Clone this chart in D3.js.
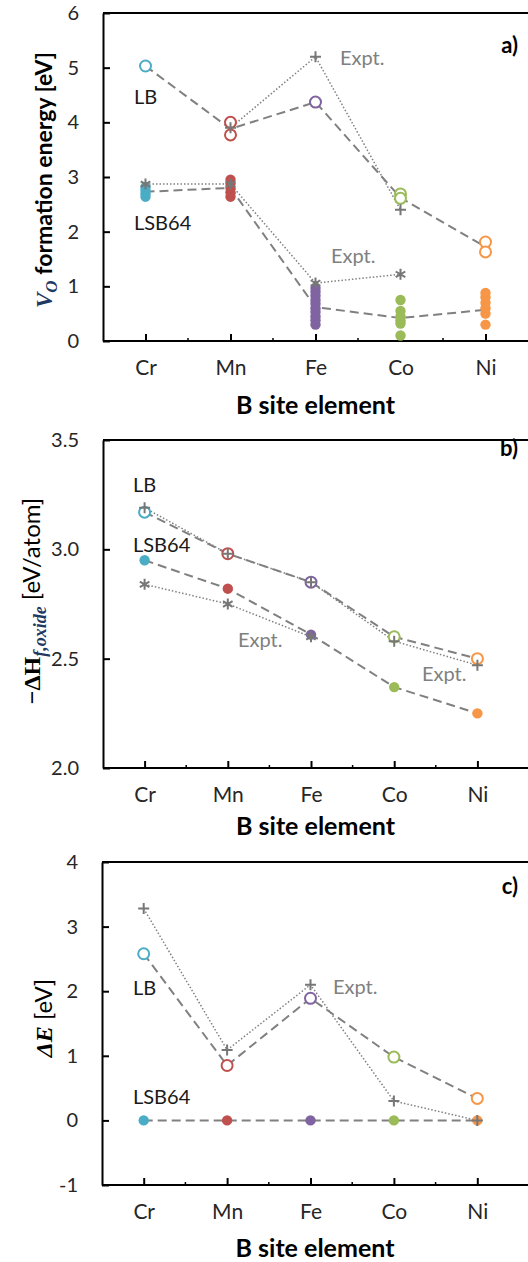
<!DOCTYPE html>
<html>
<head>
<meta charset="utf-8">
<script src="https://cdn.jsdelivr.net/npm/d3@7"></script>
<style>
body { margin: 0; background: #fff; }
svg { display: block; font-family: Lato, "Open Sans", sans-serif; }
</style>
</head>
<body>
<svg id="chart" width="528" height="1262"></svg>
<script>
// B site elements (x categories)
var elements = ["Cr", "Mn", "Fe", "Co", "Ni"];

// a) V_O formation energy [eV]
var vacLB = [[5.03], [4.0, 3.77], [4.37], [2.69, 2.61], [1.81, 1.63]];
var vacLBLine = [5.03, 3.88, 4.37, 2.62, 1.72];
var vacLSB = [
  [2.64, 2.7, 2.76, 2.82],
  [2.64, 2.72, 2.8, 2.88, 2.95],
  [0.3, 0.38, 0.45, 0.53, 0.6, 0.68, 0.75, 0.83, 0.9, 0.97],
  [0.1, 0.32, 0.38, 0.45, 0.55, 0.75],
  [0.3, 0.5, 0.6, 0.7, 0.8, 0.88]
];
var vacLSBLine = [2.73, 2.8, 0.62, 0.42, 0.57];
var vacExptPlus = [null, 3.9, 5.2, 2.4, null];
var vacExptStar = [2.87, 2.87, 1.06, 1.22, null];
var vacTicks = [0, 1, 2, 3, 4, 5, 6];

// b) -dH f,oxide [eV/atom]
var hfLB = [3.17, 2.98, 2.85, 2.60, 2.50];
var hfLSB = [2.95, 2.82, 2.61, 2.37, 2.25];
var hfExptPlus = [3.19, 2.98, 2.85, 2.58, 2.47];
var hfExptStar = [2.84, 2.75, 2.60, null, null];
var hfTicks = [2.0, 2.5, 3.0, 3.5];

// c) dE [eV]
var deLB = [2.58, 0.85, 1.89, 0.98, 0.34];
var deLSB = [0, 0, 0, 0, 0];
var deExptPlus = [3.28, 1.09, 2.1, 0.3, 0];
var deTicks = [-1, 0, 1, 2, 3, 4];

// marker colours per element
var colors = ["#4BACC6", "#C0504D", "#8064A2", "#9BBB59", "#F79646"];
var gray = "#808080";

var svg = d3.select("#chart");

var plusPath = "M-5.5,0H5.5M0,-5.5V5.5";
var starPath = "M0,-5.5V5.5M-4.8,-2.8L4.8,2.8M-4.8,2.8L4.8,-2.8";

function panel(opt) {
  var x = d3.scalePoint().domain(elements).range([opt.left, opt.right]).padding(0.5);
  var y = d3.scaleLinear().domain(opt.yDomain).range([opt.bottom, opt.top]);
  var g = svg.append("g");

  // top border
  g.append("line")
    .attr("x1", opt.left).attr("x2", 530)
    .attr("y1", opt.top).attr("y2", opt.top)
    .attr("stroke", "#000").attr("stroke-width", 2);

  // y axis, ticks inside
  var ya = g.append("g")
    .attr("transform", "translate(" + opt.left + ",0)")
    .call(d3.axisLeft(y).tickValues(opt.ticks).tickSize(-7).tickSizeOuter(0)
      .tickPadding(24).tickFormat(opt.fmt));
  ya.select(".domain").attr("stroke-width", 2);
  ya.selectAll(".tick line").attr("stroke-width", 2);
  ya.selectAll(".tick text").attr("font-size", 20).attr("fill", "#262626")
    .attr("font-family", "Lato, sans-serif");

  // x axis, major ticks at categories
  var xa = g.append("g")
    .attr("transform", "translate(0," + opt.bottom + ")")
    .call(d3.axisBottom(x).tickSize(-7).tickSizeOuter(0).tickPadding(19));
  xa.select(".domain").attr("d", "M" + opt.left + ",0H530").attr("stroke-width", 2);
  xa.selectAll(".tick line").attr("stroke-width", 2);
  xa.selectAll(".tick text").attr("font-size", 21).attr("fill", "#262626")
    .attr("font-family", "Lato, sans-serif");

  // minor ticks between categories
  var step = x.step();
  g.selectAll(".minor").data(elements.slice(1)).enter().append("line")
    .attr("x1", function (d) { return x(d) - step / 2; })
    .attr("x2", function (d) { return x(d) - step / 2; })
    .attr("y1", opt.bottom).attr("y2", opt.bottom - 3)
    .attr("stroke", "#000").attr("stroke-width", 1.5);

  // x title
  g.append("text")
    .attr("x", (opt.left + 528) / 2).attr("y", opt.bottom + opt.titleGap)
    .attr("text-anchor", "middle").attr("font-weight", "bold")
    .attr("font-size", 25).attr("fill", "#000")
    .text("B site element");

  var line = d3.line()
    .defined(function (d) { return d != null; })
    .x(function (d, i) { return x(elements[i]); })
    .y(function (d) { return y(d); });

  // connecting lines
  g.append("path").attr("d", line(opt.lbLine))
    .attr("fill", "none").attr("stroke", gray).attr("stroke-width", 2)
    .attr("stroke-dasharray", "9,5");
  g.append("path").attr("d", line(opt.lsbLine))
    .attr("fill", "none").attr("stroke", gray).attr("stroke-width", 2)
    .attr("stroke-dasharray", "9,5");
  opt.expt.forEach(function (s) {
    g.append("path").attr("d", line(s.values))
      .attr("fill", "none").attr("stroke", gray).attr("stroke-width", 1.5)
      .attr("stroke-dasharray", "1.5,2");
  });

  // LSB64 filled circles
  opt.lsb.forEach(function (vals, i) {
    g.selectAll(null).data(vals).enter().append("circle")
      .attr("cx", x(elements[i])).attr("cy", function (d) { return y(d); })
      .attr("r", 5.2).attr("fill", colors[i]);
  });

  // LB open circles
  opt.lb.forEach(function (vals, i) {
    g.selectAll(null).data(vals).enter().append("circle")
      .attr("cx", x(elements[i])).attr("cy", function (d) { return y(d); })
      .attr("r", 5.5).attr("fill", "#fff")
      .attr("stroke", colors[i]).attr("stroke-width", 2);
  });

  // experimental markers
  opt.expt.forEach(function (s) {
    s.values.forEach(function (v, i) {
      if (v == null) return;
      g.append("path")
        .attr("transform", "translate(" + x(elements[i]) + "," + y(v) + ")")
        .attr("d", s.marker).attr("fill", "none")
        .attr("stroke", "#777").attr("stroke-width", 2);
    });
  });

  // annotations
  opt.notes.forEach(function (n) {
    g.append("text").attr("x", n.x).attr("y", n.y).attr("dy", "0.35em")
      .attr("font-size", n.size || 20)
      .attr("fill", n.color || "#1a1a1a")
      .attr("text-anchor", n.anchor || "start")
      .attr("font-weight", n.bold ? "bold" : "normal")
      .text(n.text);
  });

  return g;
}

// plain hyphen for negatives, like the original
var fmtInt = function (d) { return String(d); };
var fmt1 = function (d) { return d.toFixed(1); };

// panel a
var ga = panel({
  left: 103, right: 528, top: 13, bottom: 341, titleGap: 73,
  yDomain: [0, 6], ticks: vacTicks, fmt: fmtInt,
  lb: vacLB, lbLine: vacLBLine, lsb: vacLSB, lsbLine: vacLSBLine,
  expt: [{ values: vacExptPlus, marker: plusPath }, { values: vacExptStar, marker: starPath }],
  notes: [
    { text: "LB", x: 134, y: 97 },
    { text: "LSB64", x: 134, y: 223 },
    { text: "Expt.", x: 340, y: 58, color: gray },
    { text: "Expt.", x: 331, y: 256, color: gray },
    { text: "a)", x: 518, y: 45, anchor: "end", bold: true, size: 22, color: "#000" }
  ]
});

// panel b
var gb = panel({
  left: 103, right: 519, top: 440, bottom: 768, titleGap: 67,
  yDomain: [2, 3.5], ticks: hfTicks, fmt: fmt1,
  lb: hfLB.map(function (v) { return [v]; }), lbLine: hfLB,
  lsb: hfLSB.map(function (v) { return [v]; }), lsbLine: hfLSB,
  expt: [{ values: hfExptPlus, marker: plusPath }, { values: hfExptStar, marker: starPath }],
  notes: [
    { text: "LB", x: 133, y: 485 },
    { text: "LSB64", x: 133, y: 545 },
    { text: "Expt.", x: 238, y: 640, color: gray },
    { text: "Expt.", x: 422, y: 674, color: gray },
    { text: "b)", x: 518, y: 448, anchor: "end", bold: true, size: 22, color: "#000" }
  ]
});

// panel c
var gc = panel({
  left: 102, right: 519, top: 862, bottom: 1185, titleGap: 72,
  yDomain: [-1, 4], ticks: deTicks, fmt: fmtInt,
  lb: deLB.map(function (v) { return [v]; }), lbLine: deLB,
  lsb: deLSB.map(function (v) { return [v]; }), lsbLine: deLSB,
  expt: [{ values: deExptPlus, marker: plusPath }],
  notes: [
    { text: "LB", x: 133, y: 988 },
    { text: "LSB64", x: 133, y: 1097 },
    { text: "Expt.", x: 333, y: 987, color: gray },
    { text: "c)", x: 518, y: 886, anchor: "end", bold: true, size: 22, color: "#000" }
  ]
});

// y titles
var serif = "'Liberation Serif', 'DejaVu Serif', serif";
var navy = "#1F3864";

var ta = svg.append("text")
  .attr("transform", "translate(52,180) rotate(-90)")
  .attr("text-anchor", "middle").attr("font-size", 23).attr("font-weight", "bold");
ta.append("tspan").attr("font-family", serif).attr("font-style", "italic").attr("fill", navy).text("V");
ta.append("tspan").attr("font-family", serif).attr("font-style", "italic").attr("fill", navy)
  .attr("font-size", 17).attr("dy", 5).text("O");
ta.append("tspan").attr("dy", -5).attr("fill", "#000").text(" formation energy [eV]");

var tb = svg.append("text")
  .attr("transform", "translate(40,601) rotate(-90)")
  .attr("text-anchor", "middle").attr("font-size", 24);
tb.append("tspan").attr("font-family", serif).attr("font-weight", "bold").attr("fill", "#000").text("\u2212\u0394H");
tb.append("tspan").attr("font-family", serif).attr("font-style", "italic").attr("font-weight", "bold")
  .attr("fill", navy).attr("font-size", 18).attr("dy", 6).text("f,oxide");
tb.append("tspan").attr("dy", -6).attr("fill", "#000").text(" [eV/atom]");

var tc = svg.append("text")
  .attr("transform", "translate(52,1018) rotate(-90)")
  .attr("text-anchor", "middle").attr("font-size", 24);
tc.append("tspan").attr("font-family", serif).attr("font-weight", "bold").attr("font-style", "italic")
  .attr("fill", "#000").text("\u0394E");
tc.append("tspan").attr("fill", "#000").text(" [eV]");
</script>
</body>
</html>
